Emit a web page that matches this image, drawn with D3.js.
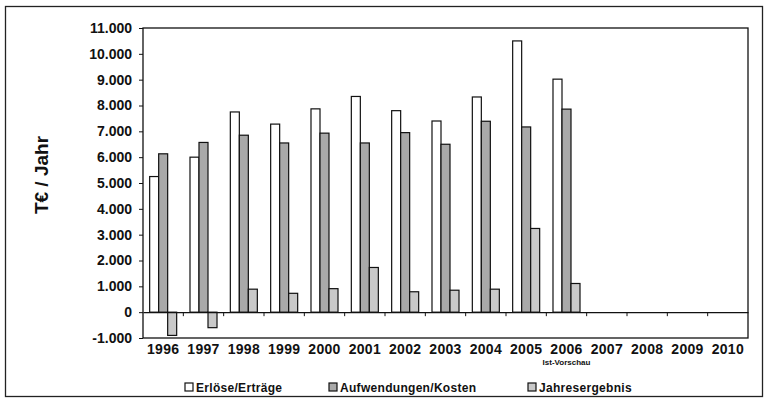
<!DOCTYPE html>
<html>
<head>
<meta charset="utf-8">
<script src="https://cdn.jsdelivr.net/npm/d3@7"></script>
<style>
    body { margin: 0; background: #fff; }
    text { font-family: "Liberation Sans", Arial, sans-serif; font-weight: bold; fill: #111; }
</style>
</head>
<body>
<svg id="Chart"></svg>
<script>
let years = ["1996", "1997", "1998", "1999", "2000", "2001", "2002", "2003",
    "2004", "2005", "2006", "2007", "2008", "2009", "2010"];
let seriesNames = ["Erlöse/Erträge", "Aufwendungen/Kosten", "Jahresergebnis"];
let erloese = [5250, 6000, 7750, 7280, 7870, 8350, 7800, 7400, 8330, 10500, 9020];
let aufwendungen = [6130, 6570, 6850, 6550, 6930, 6550, 6950, 6500, 7390, 7170, 7860];
let ergebnis = [-900, -600, 890, 730, 910, 1730, 790, 850, 890, 3240, 1110];
let yTicks = [-1000, 0, 1000, 2000, 3000, 4000, 5000, 6000, 7000, 8000, 9000, 10000, 11000];
let seriesColors = ["#ffffff", "#a9a9a9", "#c9c9c9"];

function getConfig() {
    let width = 764;
    let height = 400;
    let margin = { top: 28, bottom: 62, left: 143, right: 16 };
    let bodyWidth = width - margin.left - margin.right;
    let bodyHeight = height - margin.top - margin.bottom;
    let container = d3.select("#Chart")
        .attr("width", width)
        .attr("height", height);
    return { width, height, margin, bodyWidth, bodyHeight, container };
}

function getScales(config) {
    let { bodyWidth, bodyHeight } = config;
    let xScale = d3.scaleBand()
        .range([0, bodyWidth])
        .domain(years);
    let innerScale = d3.scaleBand()
        .range([0, xScale.bandwidth()])
        .domain(seriesNames)
        .paddingOuter(0.74);
    let yScale = d3.scaleLinear()
        .range([bodyHeight, 0])
        .domain([-1000, 11000]);
    return { xScale, innerScale, yScale };
}

function buildRows() {
    // one row per year, missing years stay empty
    return years.map((y, i) => ({
        year: y,
        values: [erloese[i], aufwendungen[i], ergebnis[i]]
    }));
}

function drawFrame(config) {
    let { container, width, height } = config;
    container.append("rect")
        .attr("x", 5.5).attr("y", 6.5)
        .attr("width", width - 7).attr("height", height - 10)
        .attr("fill", "none")
        .attr("stroke", "#222")
        .attr("stroke-width", 1.3);
}

function drawBars(rows, scales, config) {
    let { margin, container } = config;
    let { xScale, innerScale, yScale } = scales;
    let body = container.append("g")
        .attr("transform", `translate(${margin.left},${margin.top})`);

    let groups = body.selectAll(".year")
        .data(rows)
        .enter().append("g")
        .attr("transform", d => `translate(${xScale(d.year)},0)`);

    groups.selectAll("rect")
        .data(d => d.values.map((v, i) => ({ name: seriesNames[i], value: v, idx: i }))
            .filter(e => e.value !== undefined))
        .enter().append("rect")
        .attr("x", e => innerScale(e.name))
        .attr("width", innerScale.bandwidth())
        .attr("y", e => yScale(Math.max(0, e.value)))
        .attr("height", e => Math.abs(yScale(e.value) - yScale(0)))
        .attr("fill", e => seriesColors[e.idx])
        .attr("stroke", "#111")
        .attr("stroke-width", 1.2);
}

function drawAxes(scales, config) {
    let { xScale, yScale } = scales;
    let { container, margin, bodyWidth, bodyHeight } = config;
    let body = container.append("g")
        .attr("transform", `translate(${margin.left},${margin.top})`);

    // plot area border
    body.append("rect")
        .attr("x", 0).attr("y", 0)
        .attr("width", bodyWidth).attr("height", bodyHeight)
        .attr("fill", "none")
        .attr("stroke", "#111")
        .attr("stroke-width", 1.3);

    let axisY = d3.axisLeft(yScale)
        .tickValues(yTicks)
        .tickSize(4)
        .tickFormat(d => d3.format(",")(d).replace(/,/g, ".").replace("\u2212", "-"));
    let gy = body.append("g").call(axisY);
    gy.select(".domain").remove();
    gy.selectAll("line").attr("stroke", "#111");
    gy.selectAll("text")
        .attr("x", -11)
        .style("font-size", "14px");

    // category axis sits on the zero line
    let zeroAxis = d3.axisBottom(xScale).tickSize(0).tickFormat("");
    let gz = body.append("g")
        .attr("transform", `translate(0,${yScale(0)})`)
        .call(zeroAxis);
    gz.select(".domain").attr("stroke", "#111").attr("stroke-width", 1.2);
    gz.selectAll(".boundary")
        .data(years.slice(1))
        .enter().append("line")
        .attr("x1", d => xScale(d)).attr("x2", d => xScale(d))
        .attr("y1", 0).attr("y2", 4)
        .attr("stroke", "#111");

    let labels = body.append("g")
        .attr("transform", `translate(0,${bodyHeight})`);
    labels.selectAll("text")
        .data(years)
        .enter().append("text")
        .attr("x", d => xScale(d) + xScale.bandwidth() / 2)
        .attr("y", 16)
        .attr("text-anchor", "middle")
        .style("font-size", "14px")
        .style("letter-spacing", "0.3px")
        .text(d => d);
    labels.append("text")
        .attr("x", xScale("2006") + xScale.bandwidth() / 2)
        .attr("y", 27)
        .attr("text-anchor", "middle")
        .style("font-size", "8px")
        .text("Ist-Vorschau");

    container.append("text")
        .attr("transform", `translate(48,${margin.top + bodyHeight / 2 - 8}) rotate(-90)`)
        .attr("text-anchor", "middle")
        .style("font-size", "19px")
        .text("T€ / Jahr");
}

function drawLegend(config) {
    let { container } = config;
    let positions = [185, 329, 528];
    let legend = container.append("g");
    let items = legend.selectAll("g")
        .data(seriesNames)
        .enter().append("g")
        .attr("transform", (d, i) => `translate(${positions[i]},383)`);
    items.append("rect")
        .attr("width", 8).attr("height", 8)
        .attr("fill", (d, i) => seriesColors[i])
        .attr("stroke", "#111")
        .attr("stroke-width", 1.2);
    items.append("text")
        .attr("x", 11).attr("y", 9)
        .style("font-size", "12px")
        .style("letter-spacing", "0.3px")
        .text(d => d);
}

function showData() {
    let config = getConfig();
    let scales = getScales(config);
    let rows = buildRows();
    drawFrame(config);
    drawBars(rows, scales, config);
    drawAxes(scales, config);
    drawLegend(config);
}

showData();
</script>
</body>
</html>
